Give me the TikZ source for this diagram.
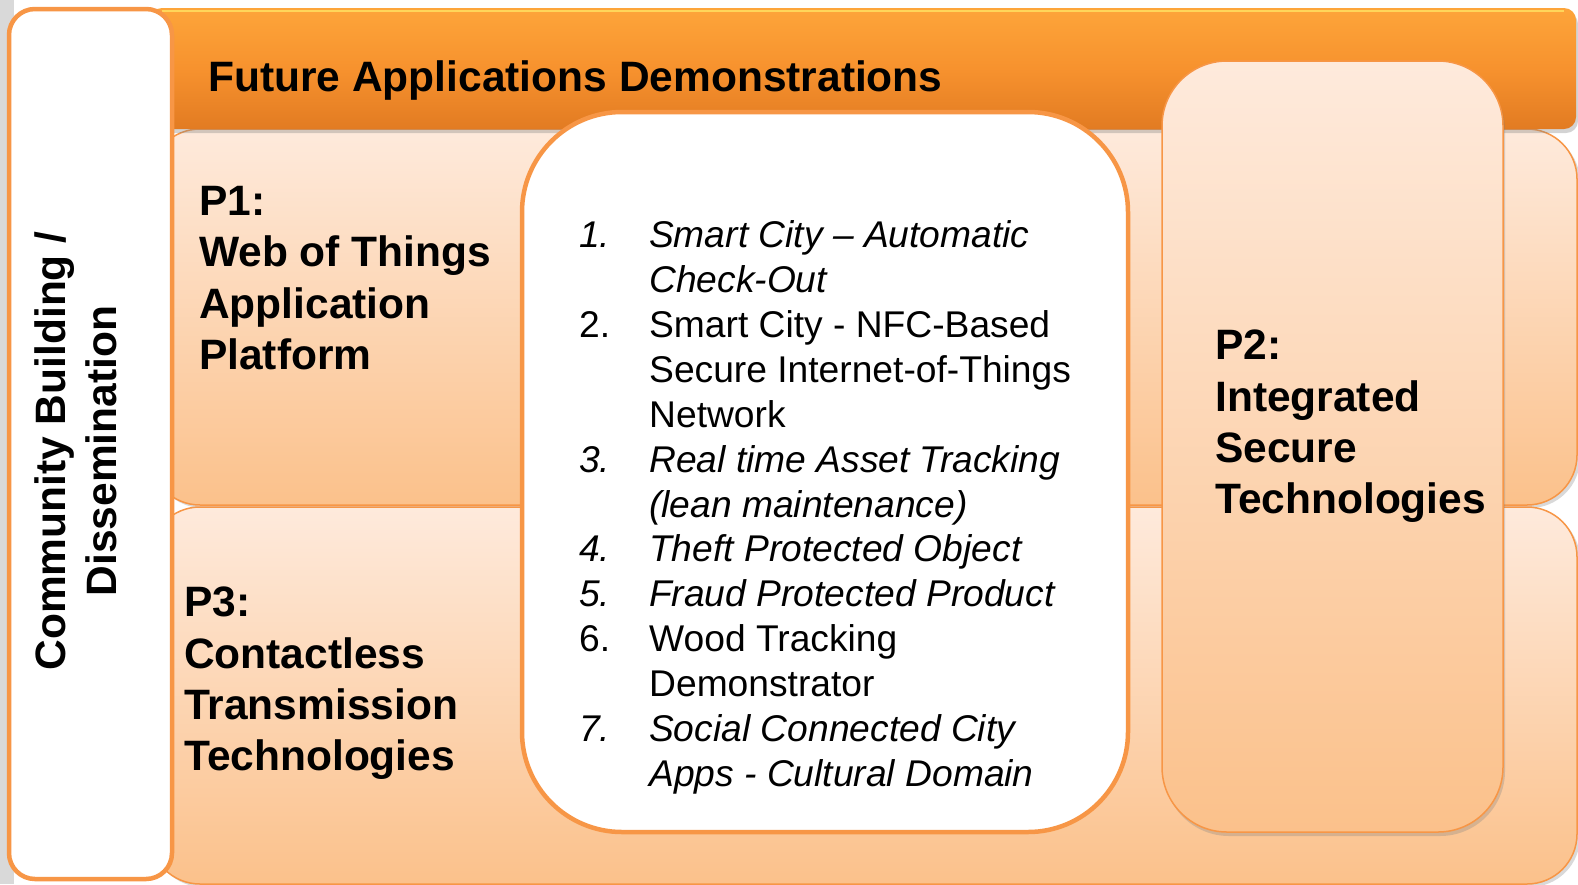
\documentclass[tikz,border=0pt]{standalone}
\usepackage{fontspec}
\setmainfont{Liberation Sans}
\usetikzlibrary{shadows}
\definecolor{accent}{HTML}{F79646}
\definecolor{peachtop}{HTML}{FEEADC}
\definecolor{peachbot}{HTML}{FBC18B}
\definecolor{bartop}{HTML}{FDA53A}
\definecolor{barmid}{HTML}{F7922E}
\definecolor{barbot}{HTML}{E27B22}
\definecolor{barhi}{HTML}{FFD65A}
\definecolor{edgegrey}{HTML}{D9D9D9}
\tikzset{
  band/.style={draw=accent, line width=1.5pt, rounded corners=50pt,
    top color=peachtop, bottom color=peachbot,
    drop shadow={opacity=.3, shadow xshift=3pt, shadow yshift=-3pt}},
  titlebar/.style={rounded corners=12pt, top color=bartop, bottom color=barbot, middle color=barmid,
    drop shadow={opacity=.35, shadow xshift=2pt, shadow yshift=-4pt}},
  sidebox/.style={draw=accent, line width=4.5pt, fill=white, rounded corners=26pt},
  demobox/.style={draw=accent, line width=4.5pt, fill=white, rounded corners=100pt},
  pbox/.style={draw=accent, line width=1.5pt, rounded corners=65pt,
    top color=peachtop, bottom color=peachbot,
    drop shadow={opacity=.3, shadow xshift=2pt, shadow yshift=-4pt}},
  titletext/.style={inner sep=0pt, font=\fontsize{42.5}{51.3}\selectfont\bfseries},
  wplabel/.style={inner sep=0pt, align=left, font=\fontsize{42.5}{51.3}\selectfont\bfseries},
  demolist/.style={inner sep=0pt, font=\fontsize{37.2}{44.9}\selectfont},
}
\newcommand{\demonum}[1]{\makebox[70pt][l]{#1}}
\begin{document}
\begin{tikzpicture}[x=1pt,y=-1pt]
  \useasboundingbox (0,0) rectangle (1578,884);
  \fill[edgegrey] (0,0) rectangle (14,884);
  % bands of P1 and P3
  \path[band] (150,129) rectangle (1577,505);
  \path[band] (150,507) rectangle (1577,884);
  % demonstrations bar
  \path[titlebar] (150,8) rectangle (1576,129);
  \draw[barhi, line width=2pt] (162,11) -- (1564,11);
  % boxes on top
  \path[sidebox] (9,9) rectangle (172,879);
  \path[demobox] (522,112) rectangle (1128,832);
  \path[pbox] (1162,61) rectangle (1503,832);
  % texts
  \node[titletext, anchor=base west] (title) at (208,91) {Future Applications Demonstrations};
  \node[wplabel, align=center, rotate=90] (community) at (76,451) {Community Building /\\Dissemination};
  \node[wplabel, anchor=north west] (p1) at (199,186) {P1:\\Web of Things\\Application\\Platform};
  \node[wplabel, anchor=north west] (p2) at (1215,330) {P2:\\Integrated\\Secure\\Technologies};
  \node[wplabel, anchor=north west] (p3) at (184,587) {P3:\\Contactless\\Transmission\\Technologies};
  \node[demolist, anchor=north west] (demos) at (579,216) {%
    \begin{tabular}{@{}l@{}l@{}}
      \demonum{\itshape 1.} & \itshape Smart City – Automatic\\
                            & \itshape Check-Out\\
      \demonum{2.}          & Smart City - NFC-Based\\
                            & Secure Internet-of-Things\\
                            & Network\\
      \demonum{\itshape 3.} & \itshape Real time Asset Tracking\\
                            & \itshape (lean maintenance)\\
      \demonum{\itshape 4.} & \itshape Theft Protected Object\\
      \demonum{\itshape 5.} & \itshape Fraud Protected Product\\
      \demonum{6.}          & Wood Tracking\\
                            & Demonstrator\\
      \demonum{\itshape 7.} & \itshape Social Connected City\\
                            & \itshape Apps - Cultural Domain
    \end{tabular}};
\end{tikzpicture}
\end{document}
